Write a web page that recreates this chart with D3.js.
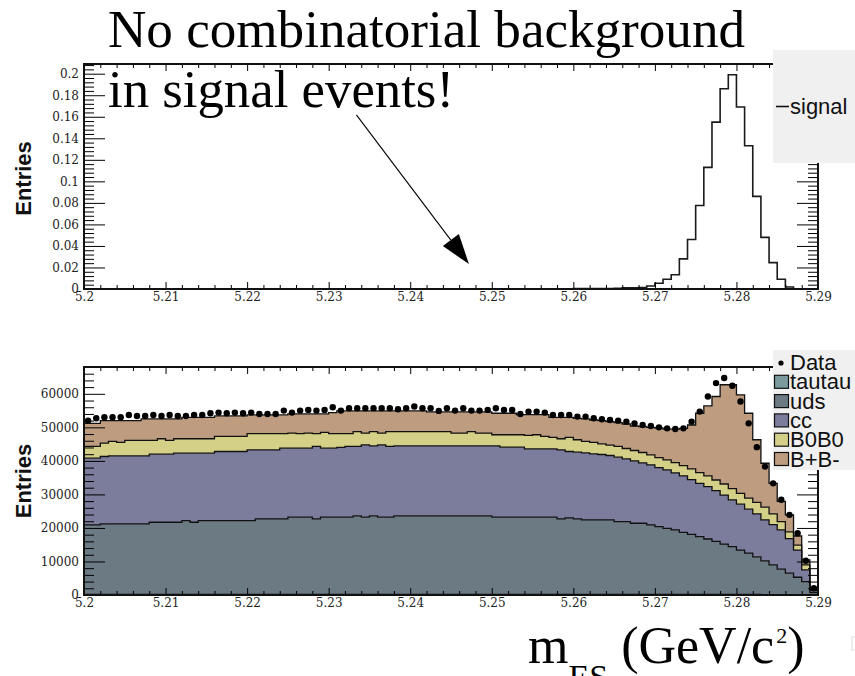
<!DOCTYPE html>
<html>
<head>
<meta charset="UTF-8">
<title>mES signal vs background</title>
<script src="https://d3js.org/d3.v7.min.js"></script>
<style>
html,body{margin:0;padding:0;background:#fff;}
.tick text{font-family:"DejaVu Serif",serif;font-size:12px;fill:#222;}
.tick line{stroke:#000;stroke-width:1;}
.domain{display:none;}
.frame{fill:none;stroke:#111;stroke-width:2;}
.ytitle{font-family:"Liberation Sans",Arial,sans-serif;font-weight:bold;font-size:22px;fill:#111;}
.leg{font-family:"Liberation Sans",Arial,sans-serif;font-size:22px;fill:#111;}
.big{font-family:"Liberation Serif","Times New Roman",serif;font-size:52px;fill:#000;}
</style>
</head>
<body>
<div id="container"></div>
<script>
// binning of both histograms
const xDomain = [5.2, 5.29];
const nBins = 90;
const xTicks = [5.2, 5.21, 5.22, 5.23, 5.24, 5.25, 5.26, 5.27, 5.28, 5.29];
const xTickLabels = ["5.2","5.21","5.22","5.23","5.24","5.25","5.26","5.27","5.28","5.29"];
const topYTicks = [0, 0.02, 0.04, 0.06, 0.08, 0.1, 0.12, 0.14, 0.16, 0.18, 0.2];
const topYLabels = ["0","0.02","0.04","0.06","0.08","0.1","0.12","0.14","0.16","0.18","0.2"];
const botYTicks = [0, 10000, 20000, 30000, 40000, 50000, 60000];
const botYLabels = ["0","10000","20000","30000","40000","50000","60000"];

// top: signal MC (normalised)
const signal = [
  0,0,0,0,0,0,0,0,0,0, 0,0,0,0,0,0,0,0,0,0,
  0,0,0,0,0,0,0,0,0,0, 0,0,0,0,0,0,0,0,0,0,
  0,0,0,0,0,0,0,0,0,0, 0,0,0,0,0,0,0,0,0,0,
  0.0005,0.0005,0.0005,0.0005,0.0005,0.0006,0.0012,0.0012,0.0014,0.0028,
  0.0053,0.009,0.0133,0.028,0.046,0.0775,0.113,0.155,0.186,0.199,
  0.169,0.133,0.086,0.048,0.0245,0.009,0.0018,0.0003,0,0
];

// bottom: stacked background MC + data
const tautau = [
  200,200,200,200,200,200,200,200,200,200, 200,200,200,200,200,200,200,200,200,200,
  200,200,200,200,200,200,200,200,200,200, 200,200,200,200,200,200,200,200,200,200,
  200,200,200,200,200,200,200,200,200,200, 200,200,200,200,200,200,200,200,200,200,
  200,200,200,200,200,200,200,200,200,200, 200,200,200,200,200,200,200,200,200,200,
  180,160,150,140,120,110,100,80,60,20
];
const uds = [
  20700,20700,21000,21000,21000,21000,21000,21000,21500,21500,
  21500,21500,22000,21500,22000,22000,22000,22000,22000,22000,
  22000,22500,22500,22500,22500,23000,23000,23000,22500,23000,
  23000,23000,23000,23400,23000,23400,23000,23000,23400,23400,
  23400,23400,23400,23400,23400,23400,23400,23400,23400,23400,
  23000,23000,23000,23000,23000,23000,23000,23000,22500,22800,
  22500,22200,22200,22200,22200,21700,21700,21200,21200,20700,
  20200,19700,19200,18500,17900,17200,16500,15800,15000,14200,
  13220,12340,11250,10060,8880,7590,6400,5220,3940,680
];
const cc = [
  19900,19900,20100,20300,20300,20300,20300,20300,20300,20300,
  20300,20600,20100,20600,20100,20100,20600,20600,20600,20600,
  21100,20600,20600,20600,21100,20600,20600,20600,21600,20600,
  20600,20800,21100,20700,21600,20900,21600,21100,20900,20900,
  20900,20900,20900,20900,20900,20900,20900,20900,20900,20900,
  21300,20900,20900,20900,20400,20400,20400,20400,20600,19800,
  19900,20000,19700,19500,19200,19200,18700,18600,18000,17900,
  17600,17400,17000,16800,16300,15900,15600,15100,14600,14000,
  13700,13100,12800,12200,12000,11700,10300,8100,3500,600
];
const b0b0 = [
  3500,3500,4000,4300,4000,4600,4600,4600,4100,4600,
  4100,4300,4300,4300,4300,4300,4500,4500,4500,4500,
  4800,4800,4800,4800,4300,4500,4300,4500,3800,4700,
  4300,4100,3800,4400,3500,4200,3500,4400,4200,4200,
  4200,4200,4200,4200,4200,3800,3800,4200,3800,3800,
  3300,3700,3700,3700,4000,4200,3700,3400,3300,4200,
  3700,3400,3400,3200,3100,3200,3100,3100,3100,3000,
  3000,3000,3100,3100,3200,3200,3200,3200,3300,3300,
  3200,3300,3400,3800,3200,2500,2000,1500,1500,400
];
const bpbm = [
  6900,6900,6700,6200,6500,5900,5900,6400,6400,5900,
  6400,5900,6400,6400,6400,6400,6100,6100,6100,6100,
  5600,5600,5600,5600,5600,5700,5900,5700,5900,5500,
  6300,6800,6800,6200,6600,6200,6600,6200,6200,6200,
  6200,6200,5900,5900,5900,6300,6300,5900,6300,6300,
  6400,6400,6400,6000,6200,6000,6500,6000,6400,6000,
  6400,6700,6700,6900,7000,7100,7300,7300,7700,8200,
  8800,9200,10000,11100,13100,17700,20900,24900,29600,31000,
  29400,25300,18700,13100,9100,6000,5100,2700,1500,500
];
const data = [
  52000,52700,53000,53000,53000,53700,53400,53400,53700,53400,
  53700,53400,53400,53700,53700,54200,54400,54200,54400,54200,
  54400,54000,54000,54000,55000,54400,55000,55200,55000,55200,
  56000,55000,55700,55700,55700,55700,55700,55700,55400,55700,
  56200,55700,55700,54900,55700,55000,55700,55000,55000,55200,
  55700,55200,55200,54000,54700,54700,54400,53700,53700,53700,
  53200,53200,52700,52400,52200,52000,51700,51200,50700,50400,
  50000,49700,49500,49700,51700,54700,59200,63200,64700,62400,
  57700,51200,44100,38300,33300,28400,23900,18400,10200,2000
];

const stackKeys = ["tautau", "uds", "cc", "B0B0", "B+B-"];
const stackSeries = [tautau, uds, cc, b0b0, bpbm];
const stackColors = ["#7b9a9e", "#6c7a84", "#7c7c9c", "#d4d088", "#be9c80"];

// annotation arrow, in data coordinates of the top pad
const arrowFrom = [5.2334, 0.1617];
const arrowTo = [5.2472, 0.0232];

const W = 855, H = 676;
const binW = (xDomain[1] - xDomain[0]) / nBins;
const lowEdge = i => xDomain[0] + i * binW;

const svg = d3.select("#container").append("svg")
  .attr("width", W).attr("height", H)
  .style("display", "block");

const x = d3.scaleLinear().domain(xDomain).range([84, 818]);
const yTop = d3.scaleLinear().domain([0, 0.209]).range([289, 64]);
const yBot = d3.scaleLinear().domain([0, 68000]).range([595, 367]);

function stepPoints(vals) {
  const pts = vals.map((v, i) => [lowEdge(i), v]);
  pts.push([xDomain[1], vals[vals.length - 1]]);
  return pts;
}

function drawAxes(y, yTicks, yLabels, yMinorStep) {
  const top = y.range()[1], bottom = y.range()[0];
  const yMax = y.domain()[1];
  const yMinor = d3.range(0, yMax, yMinorStep).filter(v => !yTicks.some(t => Math.abs(t - v) < yMinorStep / 10));
  const xMinor = d3.range(xDomain[0], xDomain[1] + 1e-9, 0.002).filter(v => !xTicks.some(t => Math.abs(t - v) < 1e-6));

  const g = svg.append("g");
  // left
  g.append("g").attr("transform", `translate(${x.range()[0]},0)`)
    .call(d3.axisLeft(y).tickValues(yTicks).tickSizeInner(-21).tickSizeOuter(0).tickPadding(5)
      .tickFormat((d, i) => yLabels[i]));
  g.append("g").attr("transform", `translate(${x.range()[0]},0)`)
    .call(d3.axisLeft(y).tickValues(yMinor).tickSizeInner(-10).tickSizeOuter(0).tickFormat(""));
  // right
  g.append("g").attr("transform", `translate(${x.range()[1]},0)`)
    .call(d3.axisRight(y).tickValues(yTicks).tickSizeInner(-21).tickSizeOuter(0).tickFormat(""));
  g.append("g").attr("transform", `translate(${x.range()[1]},0)`)
    .call(d3.axisRight(y).tickValues(yMinor).tickSizeInner(-10).tickSizeOuter(0).tickFormat(""));
  // bottom
  g.append("g").attr("transform", `translate(0,${bottom})`)
    .call(d3.axisBottom(x).tickValues(xTicks).tickSizeInner(-7).tickSizeOuter(0).tickPadding(3)
      .tickFormat((d, i) => xTickLabels[i]));
  g.append("g").attr("transform", `translate(0,${bottom})`)
    .call(d3.axisBottom(x).tickValues(xMinor).tickSizeInner(-4).tickSizeOuter(0).tickFormat(""));
  // top
  g.append("g").attr("transform", `translate(0,${top})`)
    .call(d3.axisTop(x).tickValues(xTicks).tickSizeInner(-7).tickSizeOuter(0).tickFormat(""));
  g.append("g").attr("transform", `translate(0,${top})`)
    .call(d3.axisTop(x).tickValues(xMinor).tickSizeInner(-4).tickSizeOuter(0).tickFormat(""));

  g.append("rect").attr("class", "frame")
    .attr("x", x.range()[0]).attr("y", top)
    .attr("width", x.range()[1] - x.range()[0]).attr("height", bottom - top);
}

function render() {
  // ---------- top pad ----------
  const sigLine = d3.line().curve(d3.curveStepAfter)
    .x(d => x(d[0])).y(d => yTop(d[1]));
  svg.append("path")
    .attr("d", sigLine(stepPoints(signal)))
    .attr("fill", "none").attr("stroke", "#1a1a1a").attr("stroke-width", 1.6);

  drawAxes(yTop, topYTicks, topYLabels, 0.004);

  svg.append("text").attr("class", "ytitle")
    .attr("transform", `translate(31,${(yTop.range()[0] + yTop.range()[1]) / 2 + 2}) rotate(-90)`)
    .attr("text-anchor", "middle").text("Entries");

  // legend top
  const lt = svg.append("g");
  lt.append("rect").attr("x", 773).attr("y", 50).attr("width", 82).attr("height", 113).attr("fill", "#f0f0f0");
  lt.append("line").attr("x1", 776).attr("x2", 789).attr("y1", 106.5).attr("y2", 106.5)
    .attr("stroke", "#111").attr("stroke-width", 1.6);
  lt.append("text").attr("class", "leg").attr("x", 790).attr("y", 113.5).text("signal");

  // ---------- bottom pad ----------
  const rows = d3.range(nBins).map(i => {
    const r = { x: lowEdge(i) };
    stackKeys.forEach((k, j) => r[k] = stackSeries[j][i]);
    return r;
  });
  const layers = d3.stack().keys(stackKeys)(rows);
  const area = d3.area().curve(d3.curveStepAfter)
    .x(d => x(d.x)).y0(d => yBot(d.y0)).y1(d => yBot(d.y1));
  const edge = d3.line().curve(d3.curveStepAfter)
    .x(d => x(d.x)).y(d => yBot(d.y1));

  layers.forEach((layer, j) => {
    const pts = layer.map(d => ({ x: d.data.x, y0: d[0], y1: d[1] }));
    const last = pts[pts.length - 1];
    pts.push({ x: xDomain[1], y0: last.y0, y1: last.y1 });
    svg.append("path").attr("d", area(pts)).attr("fill", stackColors[j]).attr("stroke", "none");
  });
  layers.forEach((layer, j) => {
    const pts = layer.map(d => ({ x: d.data.x, y1: d[1] }));
    pts.push({ x: xDomain[1], y1: pts[pts.length - 1].y1 });
    svg.append("path").attr("d", edge(pts)).attr("fill", "none")
      .attr("stroke", "#111").attr("stroke-width", 1.3);
  });

  svg.append("g").selectAll("circle")
    .data(data)
    .enter().append("circle")
    .attr("cx", (d, i) => x(lowEdge(i) + binW / 2))
    .attr("cy", d => yBot(d))
    .attr("r", 3.2)
    .attr("fill", "#000");

  drawAxes(yBot, botYTicks, botYLabels, 2000);

  svg.append("text").attr("class", "ytitle")
    .attr("transform", `translate(31,${(yBot.range()[0] + yBot.range()[1]) / 2}) rotate(-90)`)
    .attr("text-anchor", "middle").text("Entries");

  // legend bottom
  const lb = svg.append("g");
  lb.append("rect").attr("x", 773).attr("y", 350).attr("width", 82).attr("height", 120).attr("fill", "#f0f0f0");
  const legRows = ["Data"].concat(stackKeys);
  const legColors = [null].concat(stackColors);
  legRows.forEach((name, i) => {
    const base = 370 + i * 19.3;
    if (i === 0) {
      lb.append("circle").attr("cx", 781).attr("cy", base - 7).attr("r", 2.6).attr("fill", "#000");
    } else {
      lb.append("rect").attr("x", 774.5).attr("y", base - 14).attr("width", 14).attr("height", 13)
        .attr("fill", legColors[i]).attr("stroke", "#111").attr("stroke-width", 1.2);
    }
    lb.append("text").attr("class", "leg").attr("x", 790).attr("y", base).text(name);
  });

  // ---------- annotation ----------
  svg.append("text").attr("class", "big").attr("x", 108).attr("y", 47)
    .attr("textLength", 637).attr("lengthAdjust", "spacingAndGlyphs")
    .text("No combinatorial background");
  svg.append("text").attr("class", "big").attr("x", 108).attr("y", 107)
    .attr("textLength", 346).attr("lengthAdjust", "spacingAndGlyphs")
    .text("in signal events!");

  const p0 = [x(arrowFrom[0]), yTop(arrowFrom[1])];
  const p1 = [x(arrowTo[0]), yTop(arrowTo[1])];
  const dx = p1[0] - p0[0], dy = p1[1] - p0[1];
  const len = Math.hypot(dx, dy), ux = dx / len, uy = dy / len;
  const headL = 30, headW = 10;
  const bx = p1[0] - headL * ux, by = p1[1] - headL * uy;
  svg.append("line").attr("x1", p0[0]).attr("y1", p0[1]).attr("x2", bx).attr("y2", by)
    .attr("stroke", "#000").attr("stroke-width", 1.1);
  svg.append("path")
    .attr("d", `M${p1[0]},${p1[1]}L${bx - headW * uy},${by + headW * ux}L${bx + headW * uy},${by - headW * ux}Z`)
    .attr("fill", "#000");

  // x axis title
  const t = svg.append("text").attr("class", "big").attr("x", 528).attr("y", 663);
  t.append("tspan").text("m");
  t.append("tspan").attr("font-size", 34).attr("dy", 24.5).text("ES");
  t.append("tspan").attr("dy", -24.5).text(" (GeV/c");
  t.append("tspan").attr("font-size", 22).attr("dx", 2).attr("dy", -19.7).text("2");
  t.append("tspan").attr("dy", 19.7).text(")");

  svg.append("rect").attr("x", 852).attr("y", 637).attr("width", 4).attr("height", 13)
    .attr("fill", "none").attr("stroke", "#ddd");
}

render();
</script>
</body>
</html>
